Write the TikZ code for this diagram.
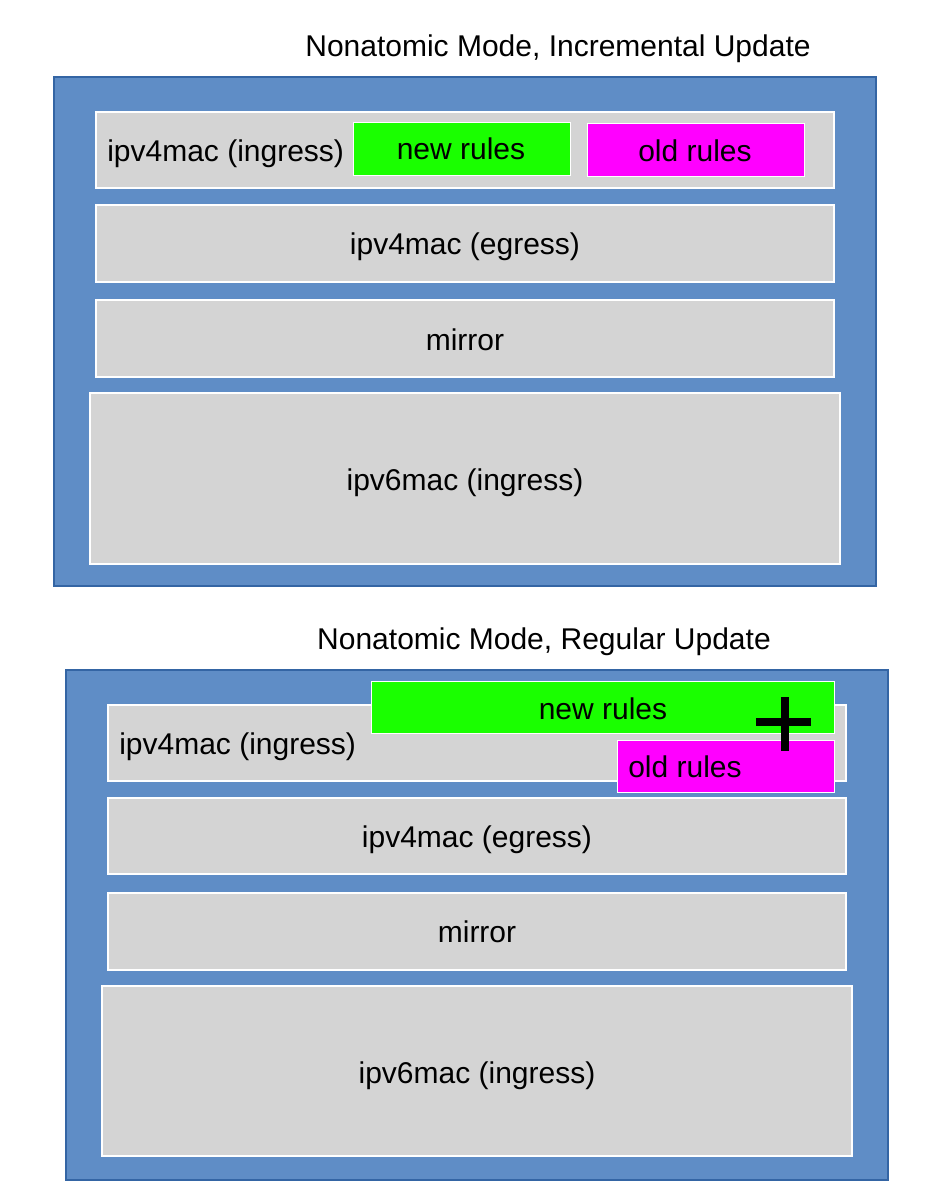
\documentclass[tikz,border=0pt]{standalone}
\usepackage{fontspec}
\setmainfont{Liberation Sans}
\usepackage{xcolor}
\usetikzlibrary{positioning}

\definecolor{panelblue}{HTML}{5F8DC6}
\definecolor{paneledge}{HTML}{3465A4}
\definecolor{rowgray}{HTML}{D4D4D4}
\definecolor{rulegreen}{HTML}{1AFF00}
\definecolor{rulemagenta}{HTML}{FF00FF}

\tikzset{
  panel/.style={fill=panelblue, draw=paneledge, line width=0.8pt},
  row/.style={fill=rowgray, draw=white, line width=1pt},
  newbox/.style={fill=rulegreen, draw=white, line width=0.6pt},
  oldbox/.style={fill=rulemagenta, draw=white, line width=0.6pt},
  lbl/.style={inner sep=0pt, font=\fontsize{22.5}{27}\selectfont}
}

\begin{document}
\begin{tikzpicture}[x=0.75pt, y=-0.75pt]
    \useasboundingbox (0,0) rectangle (926,1199);

    % incremental update
    \node[lbl] (titleA) at (558,49) {Nonatomic Mode, Incremental Update};
    \filldraw[panel] (54,77) rectangle (876,586);
    \filldraw[row] (96,112) rectangle (834,188);
    \filldraw[row] (96,205) rectangle (834,282);
    \filldraw[row] (96,300) rectangle (834,377);
    \filldraw[row] (90,393) rectangle (840,564);
    \filldraw[newbox] (353,122) rectangle (570,175);
    \filldraw[oldbox] (587,123) rectangle (804,176);
    \node[lbl, anchor=west] (ingA) at (107,154) {ipv4mac (ingress)};
    \node[lbl] (newA) at (461,149) {new rules};
    \node[lbl] (oldA) at (695,151) {old rules};
    \node[lbl] (egrA) at (465,247) {ipv4mac (egress)};
    \node[lbl] (mirA) at (465,340) {mirror};
    \node[lbl] (sixA) at (465,483) {ipv6mac (ingress)};

    % regular update
    \node[lbl] (titleB) at (544,642) {Nonatomic Mode, Regular Update};
    \filldraw[panel] (66,670) rectangle (888,1180);
    \filldraw[row] (108,705) rectangle (846,781);
    \filldraw[row] (108,798) rectangle (846,874);
    \filldraw[row] (108,893) rectangle (846,970);
    \filldraw[row] (102,986) rectangle (852,1156);
    \filldraw[newbox] (371,681) rectangle (834,733);
    \filldraw[oldbox] (617,740) rectangle (834,792);
    \node[lbl, anchor=west] (ingB) at (119,747) {ipv4mac (ingress)};
    \node[lbl] (newB) at (603,709) {new rules};
    \node[lbl, anchor=west] (oldB) at (628,767) {old rules};
    \node[lbl] (egrB) at (477,840) {ipv4mac (egress)};
    \node[lbl] (mirB) at (477,932) {mirror};
    \node[lbl] (sixB) at (477,1076) {ipv6mac (ingress)};

    % plus sign
    \coordinate (plus) at (785,722);
    \draw[line width=5.4pt] (plus) ++(-29,0) -- ++(55,0);
    \draw[line width=5.4pt] (plus) ++(0,-25) -- ++(0,54);
\end{tikzpicture}
\end{document}
